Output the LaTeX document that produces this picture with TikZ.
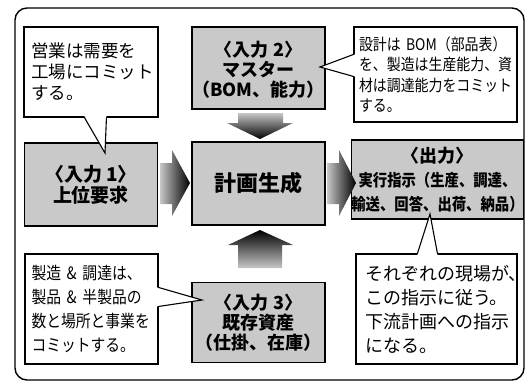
\documentclass[tikz,border=0pt]{standalone}
\usepackage{fontspec}
\newfontfamily\jp{Noto Sans CJK JP}
\newfontfamily\jpc[FakeStretch=0.87]{Noto Sans CJK JP}
\usetikzlibrary{calc}
\tikzset{
  graybox/.style={draw, line width=1.3pt, fill=black!21, inner sep=0pt, align=center},
  callbox/.style={draw, line width=1.1pt, fill=white, inner ysep=0pt, align=left},
  pointer/.style={line width=1.1pt, line join=miter},
  frame/.style={line width=1.4pt, rounded corners=12pt},
  fatdown/.style={top color=black!22, bottom color=black},
  fatup/.style={bottom color=black!22, top color=black},
  fatright/.style={left color=black!22, right color=black}
}
\begin{document}
\begin{tikzpicture}[x=1pt,y=-1pt]
\useasboundingbox (0,0) rectangle (530,384);
\draw[frame] (15,8) rectangle (524,380);

% main gray boxes
\node[graybox, minimum width=133pt, minimum height=83pt,
  font={\jp\bfseries\fontsize{19}{21}\selectfont}] (in1) at (91,184.5) {〈入力 1〉\\上位要求};
\node[graybox, minimum width=133pt, minimum height=82pt,
  font={\jp\bfseries\fontsize{18}{20}\selectfont}] (in2) at (258.5,68) {\rule{0pt}{18pt}〈入力 2〉\\マスター\\（BOM、能力）};
\node[graybox, minimum width=133pt, minimum height=83pt,
  font={\jp\bfseries\fontsize{22}{24}\selectfont}] (plan) at (258.5,183.5) {計画生成};
\node[graybox, minimum width=162pt, minimum height=79pt,
  font={\jpc\bfseries\fontsize{16.5}{24}\selectfont}] (out) at (437.5,179.5)
  {{\jp\fontsize{18}{24}\selectfont〈出力〉}\\実行指示（生産、調達、\\輸送、回答、出荷、納品）};
\node[graybox, minimum width=133pt, minimum height=80pt,
  font={\jp\bfseries\fontsize{18}{20}\selectfont}] (in3) at (258.5,322.5) {〈入力 3〉\\既存資産\\（仕掛、在庫）};

% fat arrows
\shade[fatdown] (238,113) -- (283,113) -- (283,123) -- (293,123) -- (260,139) -- (227,123) -- (238,123) -- cycle;
\shade[fatup] (238,268) -- (282,268) -- (282,245) -- (293,245) -- (260,230) -- (228,245) -- (238,245) -- cycle;
\shade[fatright] (160,163) -- (172,163) -- (172,150) -- (190,183) -- (172,216) -- (172,204) -- (160,204) -- cycle;
\shade[fatright] (327,163) -- (339,163) -- (339,150) -- (356,183) -- (339,216) -- (339,204) -- (327,204) -- cycle;

% callouts
\node[callbox, minimum width=134pt, minimum height=90pt, inner xsep=7pt, text width=120pt,
  font={\jp\fontsize{17.5}{21}\selectfont}] (c1) at (91,72) {営業は需要を\\工場にコミット\\する。};
\node[callbox, minimum width=163pt, minimum height=95pt, inner xsep=5pt, text width=153pt,
  font={\jpc\fontsize{16}{20.5}\selectfont}] (c2) at (435.5,74.5) {設計は BOM（部品表）\\を、製造は生産能力、資\\材は調達能力をコミット\\する。};
\node[callbox, minimum width=133pt, minimum height=110pt, inner xsep=6.5pt, text width=120pt,
  font={\jpc\fontsize{17}{24}\selectfont}] (c3) at (91.5,309) {製造 \& 調達は、\\製品 \& 半製品の\\数と場所と事業を\\コミットする。};
\node[callbox, minimum width=161pt, minimum height=110pt, inner xsep=9pt, text width=143pt,
  font={\jp\fontsize{18}{24}\selectfont}] (c4) at (436.5,309) {それぞれの現場が、\\この指示に従う。\\下流計画への指示\\になる。};

% pointer coordinates
\coordinate (t1) at (105,153);
\coordinate (a1) at ($(c1.south west)+(61,0)$);
\coordinate (b1) at ($(c1.south west)+(83,0)$);
\coordinate (t2) at (320,67);
\coordinate (a2) at ($(c2.north west)+(0,28)$);
\coordinate (b2) at ($(c2.north west)+(0,50)$);
\coordinate (t3) at (202,300);
\coordinate (a3) at ($(c3.north east)+(0,34)$);
\coordinate (b3) at ($(c3.north east)+(0,53)$);
\coordinate (t4) at (430,214);
\coordinate (a4) at ($(c4.north west)+(62,0)$);
\coordinate (b4) at ($(c4.north west)+(82,0)$);

\fill[white] ($(a1)+(0,-1.5)$) -- (t1) -- ($(b1)+(0,-1.5)$) -- cycle;
\draw[pointer] (a1) -- (t1) -- (b1);
\fill[white] ($(a2)+(1.5,0)$) -- (t2) -- ($(b2)+(1.5,0)$) -- cycle;
\draw[pointer] (a2) -- (t2) -- (b2);
\fill[white] ($(a3)+(-1.5,0)$) -- (t3) -- ($(b3)+(-1.5,0)$) -- cycle;
\draw[pointer] (a3) -- (t3) -- (b3);
\fill[white] ($(a4)+(0,1.5)$) -- (t4) -- ($(b4)+(0,1.5)$) -- cycle;
\draw[pointer] (a4) -- (t4) -- (b4);
\end{tikzpicture}
\end{document}
